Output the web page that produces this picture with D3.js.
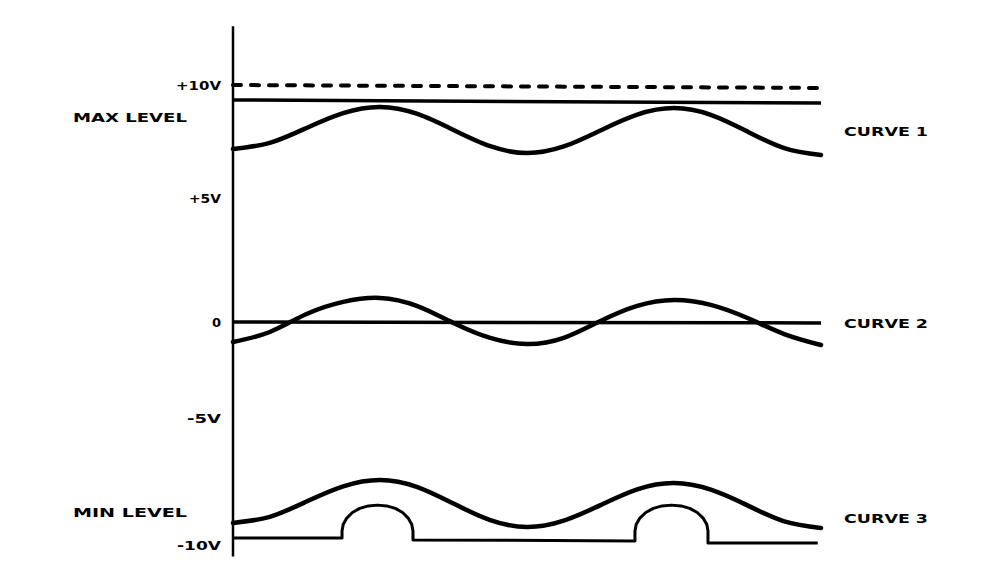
<!DOCTYPE html>
<html>
<head>
<meta charset="utf-8">
<script src="https://cdn.jsdelivr.net/npm/d3@7"></script>
<style>
  html, body { margin: 0; padding: 0; background: #fff; }
  svg { display: block; }
  text { font-family: "DejaVu Sans", "Liberation Sans", Arial, sans-serif; font-weight: bold; fill: #000; }
</style>
</head>
<body>
<svg id="chart" width="985" height="577"></svg>
<script>
// ---- data (phase in degrees, level in volts) ----
const phase = [0,45,90,135,180,225,270,315,360,405,450,495,540,585,630,675,720];
const curve1 = [7.17,7.44,8.10,8.76,9.03,8.73,8.01,7.29,6.99,7.28,7.99,8.69,8.98,8.68,7.94,7.21,6.90];
const curve2 = [-1.04,-0.52,0.32,0.81,0.97,0.65,-0.05,-0.83,-1.15,-0.83,0.04,0.65,0.89,0.69,0.16,-0.63,-1.20];
const curve3 = [-9.13,-8.89,-8.29,-7.69,-7.44,-7.71,-8.37,-9.02,-9.29,-9.04,-8.43,-7.81,-7.56,-7.82,-8.44,-9.07,-9.33];

const limitT = [0, 720];
const upperLimitV = [10.0, 9.87];   // dashed +10V reference
const maxLevelV = [9.34, 9.20];     // MAX LEVEL line
const zeroRefV = [0.0, -0.05];      // 0 V reference

// clipped (minimum-level) output under curve 3
const clippedT = [0,133.5,133.5,134.9,139.3,146.2,155.2,165.7,176.9,188.2,198.7,207.7,214.5,218.9,220.4,220.4,
                  492.2,492.2,493.7,498.2,505.4,514.6,525.4,536.9,548.5,559.3,568.5,575.6,580.2,581.6,581.6,716];
const clippedV = [-9.72,-9.72,-9.45,-9.19,-8.94,-8.72,-8.56,-8.46,-8.43,-8.46,-8.56,-8.72,-8.94,-9.19,-9.45,-9.80,
                  -9.84,-9.45,-9.19,-8.94,-8.72,-8.56,-8.46,-8.43,-8.46,-8.56,-8.72,-8.94,-9.19,-9.45,-9.92,-9.92];

const tickValues = [10, 5, 0, -5, -10];
const tickLabels = ["+10V", "+5V", "0", "-5V", "-10V"];
const curveLabels = ["CURVE 1", "CURVE 2", "CURVE 3"];
const curveLabelV = [7.95, -0.05, -8.95];
const levelLabels = ["MAX LEVEL", "MIN LEVEL"];
const levelLabelV = [8.58, -8.70];
const axisExtentV = [12.6, -10.45];

// ---- scales ----
const x = d3.scaleLinear().domain([0, 720]).range([233, 821]);
const y = d3.scaleLinear().domain([-10, -5, 0, 5, 10]).range([545, 418, 322, 198, 85]);

const svg = d3.select("#chart");

// vertical axis line
svg.append("line")
  .attr("x1", x(0)).attr("x2", x(0))
  .attr("y1", y(axisExtentV[0])).attr("y2", y(axisExtentV[1]))
  .attr("stroke", "#000").attr("stroke-width", 2.5);

// tick labels
const tickWidths = [45, 32, 11, 34, 44];
svg.append("g").selectAll("text").data(tickValues).join("text")
  .attr("x", 221)
  .attr("y", d => y(d))
  .attr("dy", "0.36em")
  .attr("text-anchor", "end")
  .attr("font-size", 13)
  .attr("textLength", (d, i) => tickLabels[i].length > 1 ? tickWidths[i] : null)
  .attr("lengthAdjust", "spacingAndGlyphs")
  .text((d, i) => tickLabels[i]);

// level labels
svg.append("g").selectAll("text").data(levelLabels).join("text")
  .attr("x", 73)
  .attr("y", (d, i) => y(levelLabelV[i]))
  .attr("dy", "0.36em")
  .attr("font-size", 13)
  .attr("textLength", 114)
  .attr("lengthAdjust", "spacingAndGlyphs")
  .text(d => d);

// curve labels
svg.append("g").selectAll("text").data(curveLabels).join("text")
  .attr("x", 844)
  .attr("y", (d, i) => y(curveLabelV[i]))
  .attr("dy", "0.36em")
  .attr("font-size", 13)
  .attr("textLength", 84)
  .attr("lengthAdjust", "spacingAndGlyphs")
  .text(d => d);

const straight = d3.line().x(d => x(d[0])).y(d => y(d[1]));
const smooth = d3.line().x(d => x(d[0])).y(d => y(d[1])).curve(d3.curveNatural);

// dashed +10V reference
svg.append("path")
  .attr("d", straight(limitT.map((t, i) => [t, upperLimitV[i]])))
  .attr("fill", "none").attr("stroke", "#000").attr("stroke-width", 4)
  .attr("stroke-dasharray", "8,10").attr("stroke-linecap", "round");

// max level
svg.append("path")
  .attr("d", straight(limitT.map((t, i) => [t, maxLevelV[i]])))
  .attr("fill", "none").attr("stroke", "#000").attr("stroke-width", 3.5);

// zero reference
svg.append("path")
  .attr("d", straight(limitT.map((t, i) => [t, zeroRefV[i]])))
  .attr("fill", "none").attr("stroke", "#000").attr("stroke-width", 3.5);

// curves
[curve1, curve2, curve3].forEach(c => {
  svg.append("path")
    .attr("d", smooth(phase.map((t, i) => [t, c[i]])))
    .attr("fill", "none").attr("stroke", "#000").attr("stroke-width", 4.5)
    .attr("stroke-linecap", "round");
});

// clipped output
svg.append("path")
  .attr("d", straight(clippedT.map((t, i) => [t, clippedV[i]])))
  .attr("fill", "none").attr("stroke", "#000").attr("stroke-width", 3)
  .attr("stroke-linejoin", "round");
</script>
</body>
</html>
